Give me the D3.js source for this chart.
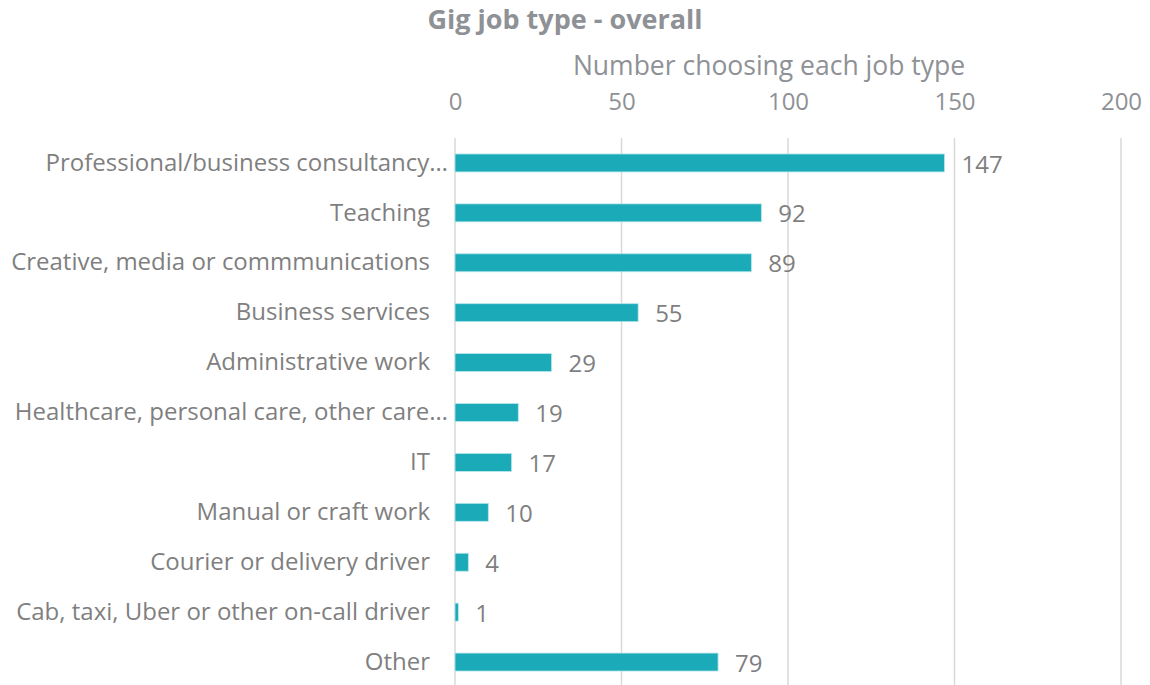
<!DOCTYPE html>
<html><head><meta charset="utf-8">
<script src="https://cdn.jsdelivr.net/npm/d3@7"></script>
<style>body{margin:0;background:#fff}svg{display:block}text{font-family:"Open Sans",sans-serif}</style>
</head><body>
<svg id="c" width="1150" height="685"></svg>
<script>
const categories = ["Professional/business consultancy\u2026","Teaching","Creative, media or commmunications","Business services","Administrative work","Healthcare, personal care, other care\u2026","IT","Manual or craft work","Courier or delivery driver","Cab, taxi, Uber or other on-call driver","Other"];
const values = [147,92,89,55,29,19,17,10,4,1,79];
const tickValues = [0,50,100,150,200];
const title = "Gig job type - overall";
const axisTitle = "Number choosing each job type";

const svg = d3.select("#c");
const x = d3.scaleLinear().domain([0,200]).range([455,1121]);
const y = d3.scaleBand().domain(categories).range([138,687]).paddingInner(0.64).paddingOuter(0.32);
const txt = "#7f7f7f";

svg.append("text").attr("x",565).attr("y",29).attr("text-anchor","middle")
  .attr("font-size",27).attr("font-weight",700).attr("fill","#8e9195").text(title);
svg.append("text").attr("x",769).attr("y",75).attr("text-anchor","middle")
  .attr("font-size",26.5).attr("fill","#8e9195").text(axisTitle);

const ax = svg.append("g").attr("transform","translate(0,138)")
  .call(d3.axisTop(x).tickValues(tickValues).tickSize(0).tickPadding(28));
ax.select(".domain").remove();
ax.selectAll("text").attr("font-size",24).attr("fill","#8e9195").attr("font-family","Open Sans");

svg.append("g").selectAll("line").data(tickValues).join("line")
  .attr("x1",d=>x(d)).attr("x2",d=>x(d)).attr("y1",138).attr("y2",685)
  .attr("stroke","#d9d9d9").attr("stroke-width",1.5);

const ay = svg.append("g").attr("transform","translate(455,0)")
  .call(d3.axisLeft(y).tickSize(0).tickPadding(25));
ay.select(".domain").remove();
ay.selectAll("text").attr("font-size",24).attr("fill",txt).attr("font-family","Open Sans")
  .attr("dx",d=>d.endsWith("\u2026")?18:0);

svg.append("g").selectAll("rect").data(values).join("rect")
  .attr("x",x(0)).attr("y",(d,i)=>y(categories[i]))
  .attr("width",d=>x(d)-x(0)).attr("height",y.bandwidth())
  .attr("fill","#1aaab8").attr("stroke","#b8e6ea").attr("stroke-width",0.8);

svg.append("g").selectAll("text").data(values).join("text")
  .attr("x",d=>x(d)+17).attr("y",(d,i)=>y(categories[i])+y.bandwidth()/2)
  .attr("dy","0.4em").attr("font-size",24).attr("fill",txt).text(d=>d);
</script>
</body></html>
